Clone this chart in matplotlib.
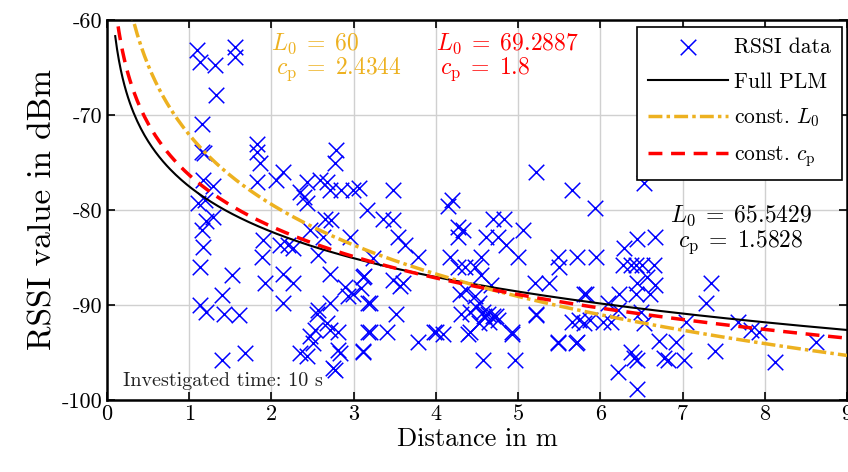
import matplotlib

matplotlib.use("Agg")
import matplotlib.pyplot as plt
import numpy as np

# RSSI samples (distance in m, RSSI in dBm)
dist = [
    1.09, 1.13, 1.31, 1.56, 1.56, 1.33, 1.15, 1.15, 1.18, 1.82, 1.82, 1.86, 1.82, 2.14, 2.06,
    2.43, 2.35, 1.17, 1.29, 1.11, 1.19, 1.29, 1.21, 1.15, 1.17, 1.13, 1.52, 1.40, 1.13, 1.21,
    1.42, 1.60, 1.40, 1.68, 1.90, 1.88, 1.92, 2.10, 2.20, 2.26, 2.14, 2.26, 2.14, 2.39, 2.43,
    2.47, 2.55, 2.47, 2.51, 2.43, 2.35, 2.75, 2.83, 2.71, 2.67, 2.81, 2.53, 2.79, 2.77, 2.59,
    2.71, 2.67, 2.85, 2.99, 3.07, 3.48, 3.16, 2.65, 2.73, 3.36, 3.48, 2.63, 2.95, 3.54, 3.62,
    2.57, 3.78, 3.24, 2.71, 3.13, 3.48, 3.56, 3.60, 2.89, 2.99, 2.93, 3.09, 3.17, 2.71, 2.57,
    3.52, 3.17, 3.40, 3.78, 4.00, 4.09, 2.81, 3.11, 2.77, 4.19, 4.15, 4.27, 4.27, 4.17, 4.27,
    4.29, 4.31, 5.22, 5.66, 5.93, 4.69, 4.83, 4.33, 4.61, 4.75, 5.06, 4.85, 5.00, 4.55, 5.48,
    5.72, 5.95, 5.50, 4.35, 4.47, 4.55, 5.20, 5.38, 4.67, 4.37, 5.80, 4.47, 4.53, 4.41, 5.22,
    4.59, 4.69, 4.75, 4.65, 4.53, 4.63, 4.49, 5.66, 5.80, 6.03, 4.39, 4.93, 5.48, 5.72, 4.57,
    4.96, 6.53, 6.29, 6.45, 6.27, 6.37, 6.43, 6.51, 6.65, 6.45, 6.57, 6.67, 6.23, 6.43, 6.61,
    6.67, 7.34, 7.28, 6.09, 6.21, 6.49, 6.13, 6.53, 7.04, 7.67, 7.83, 7.93, 8.62, 8.13, 7.40,
    6.71, 6.92, 6.78, 7.02, 6.82, 6.37, 6.41, 6.45, 6.21, 6.45, 3.20, 3.11, 3.20, 3.98, 4.41,
    4.93, 3.11, 5.82, 5.74, 5.87, 5.48, 5.70, 5.22, 4.57, 4.73,
]
rssi = [
    -63.2, -64.4, -64.7, -62.8, -63.9, -67.9, -70.9, -73.9, -74.0, -73.0, -73.9, -75.1, -77.0, -76.0, -76.8,
    -77.0, -78.1, -76.8, -77.5, -79.3, -78.9, -80.7, -81.2, -82.1, -83.9, -86.0, -86.8, -88.9, -90.0, -90.7,
    -90.9, -91.1, -95.8, -95.0, -83.2, -84.9, -87.7, -83.7, -83.7, -84.0, -86.7, -87.7, -89.8, -78.6, -79.3,
    -82.1, -90.9, -93.3, -94.0, -95.4, -95.1, -96.6, -95.1, -92.6, -91.9, -92.8, -92.6, -73.7, -75.0, -76.8,
    -77.9, -77.0, -77.9, -77.9, -77.7, -77.9, -80.0, -80.9, -81.1, -80.9, -81.1, -82.8, -82.8, -82.8, -83.7,
    -84.7, -84.9, -85.1, -86.7, -86.9, -87.4, -88.0, -87.7, -88.1, -88.8, -89.0, -88.2, -89.8, -89.8, -90.5,
    -90.9, -92.8, -92.8, -93.9, -92.8, -93.0, -94.7, -94.8, -96.8, -78.9, -79.6, -81.8, -82.8, -84.9, -86.0,
    -88.8, -90.9, -76.0, -77.9, -79.8, -80.9, -80.9, -82.1, -82.8, -82.8, -82.1, -83.7, -84.9, -84.9, -84.9,
    -84.9, -84.9, -86.0, -86.0, -86.0, -86.8, -87.7, -87.7, -87.9, -88.4, -88.8, -89.1, -89.8, -90.7, -91.1,
    -91.2, -91.2, -91.6, -91.8, -91.9, -90.9, -90.2, -91.8, -91.9, -91.8, -93.0, -93.0, -93.9, -93.9, -95.8,
    -95.8, -77.2, -84.0, -83.0, -85.8, -85.8, -85.8, -85.8, -85.8, -87.7, -87.0, -87.9, -88.8, -88.8, -88.8,
    -82.8, -87.7, -89.8, -89.8, -90.5, -90.7, -91.8, -91.9, -91.8, -91.8, -92.6, -92.8, -93.9, -96.0, -94.8,
    -93.8, -93.9, -95.6, -95.8, -95.8, -94.9, -95.6, -95.8, -97.0, -98.8, -89.8, -87.0, -92.8, -92.8, -92.8,
    -92.8, -94.9, -88.8, -91.6, -91.6, -94.0, -94.0, -90.9, -90.7, -91.2,
]

# path loss model parameters: (L0, cp, reference distance)
full_plm = (65.5429, 1.5828, 0.175)
const_l0 = (60.0, 2.4344, 0.319)
const_cp = (69.2887, 1.8, 0.407)

BLUE = "#0000ff"
ORANGE = "#edb120"
RED = "#ff0000"

plt.rcParams["font.family"] = "serif"
plt.rcParams["font.serif"] = ["cmr10"]
plt.rcParams["mathtext.fontset"] = "cm"
plt.rcParams["axes.unicode_minus"] = False
plt.rcParams["axes.formatter.use_mathtext"] = False


def plm(d, params):
    L0, cp, d0 = params
    return -L0 - 10.0 * cp * np.log10(d / d0)


fig = plt.figure(figsize=(8.48, 4.72), dpi=100)
ax = fig.add_axes([107 / 848, 1 - 400 / 472, 740 / 848, 380 / 472])

ax.scatter(dist, rssi, marker="x", s=125, color=BLUE, linewidths=1.1, label="RSSI data", zorder=3)

d = np.linspace(0.1, 9, 400)
ax.plot(d, plm(d, full_plm), color="black", lw=1.5, label="Full PLM", zorder=4)
ax.plot(d, plm(d, const_l0), color=ORANGE, lw=2.5, ls=(0, (4, 1.2, 1, 1.2)), label="const. $L_0$", zorder=4)
ax.plot(d, plm(d, const_cp), color=RED, lw=2.5, ls=(0, (4, 2.5)), label="const. $c_\\mathrm{p}$", zorder=5)

ax.set_xlim(0, 9)
ax.set_ylim(-100, -60)
ax.set_xticks(range(0, 10))
ax.set_yticks(range(-100, -59, 10))
ax.grid(True, color="#d0d0d0", lw=1.0)
ax.set_axisbelow(True)
ax.tick_params(direction="in", top=True, right=True, length=6, width=1.2, labelsize=16)
for sp in ax.spines.values():
    sp.set_linewidth(1.8)

ax.set_xlabel("Distance in m", fontsize=19, labelpad=2)
ax.set_ylabel("RSSI value in dBm", fontsize=24, labelpad=3)

tkw = dict(fontsize=17, transform=ax.transData)
ax.text(2.0, -63.2, "$L_0\\;=\\;60$", color=ORANGE, **tkw)
ax.text(2.05, -65.7, "$c_\\mathrm{p}\\;=\\;2.4344$", color=ORANGE, **tkw)
ax.text(4.0, -63.2, "$L_0\\;=\\;69.2887$", color=RED, **tkw)
ax.text(4.05, -65.7, "$c_\\mathrm{p}\\;=\\;1.8$", color=RED, **tkw)
ax.text(6.85, -81.3, "$L_0\\;=\\;65.5429$", color="black", **tkw)
ax.text(6.95, -83.9, "$c_\\mathrm{p}\\;=\\;1.5828$", color="black", **tkw)
ax.text(0.2, -98.5, "Investigated time: 10 s", fontsize=14.5, color="#222222")

leg = ax.legend(loc="upper right", bbox_to_anchor=(0.993, 0.982), borderaxespad=0,
                fontsize=15.5, handlelength=3.7, labelspacing=0.7, fancybox=False,
                framealpha=1, edgecolor="black", borderpad=0.5, handletextpad=0.3)
leg.get_frame().set_linewidth(1.2)

fig.savefig("out.png", dpi=100)
